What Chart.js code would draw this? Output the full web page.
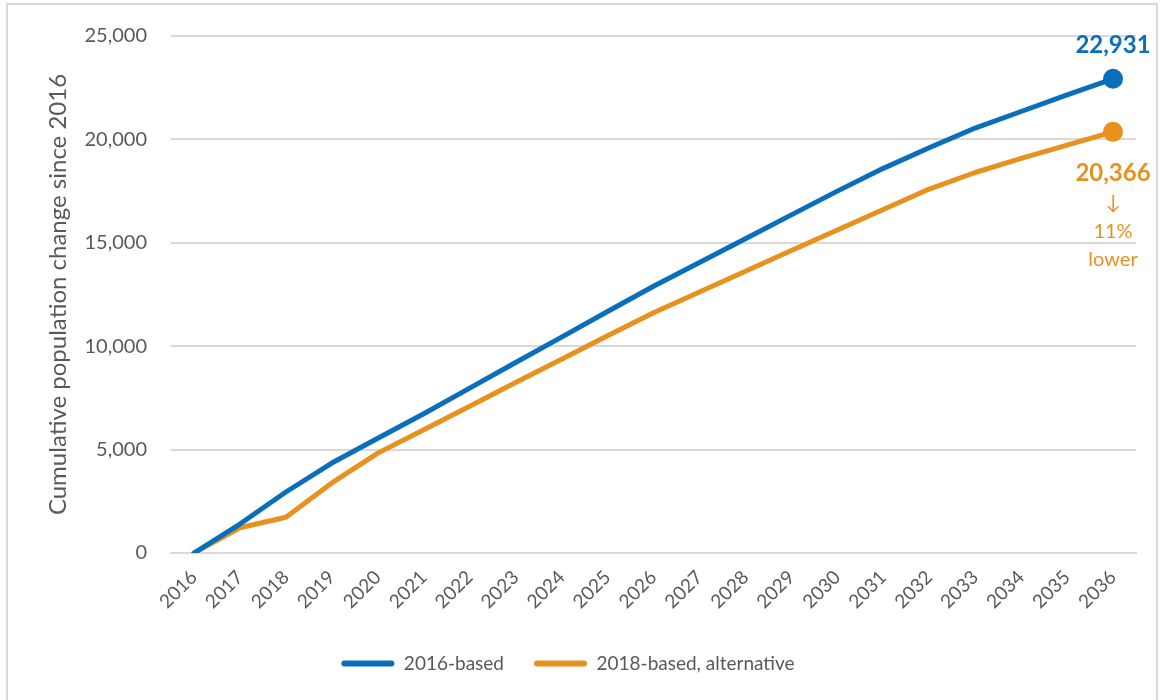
<!DOCTYPE html>
<html>
<head>
<meta charset="utf-8">
<script src="https://cdn.jsdelivr.net/npm/chart.js@4/dist/chart.umd.min.js"></script>
<style>
  html, body { margin: 0; padding: 0; background: #ffffff; }
  #wrap { position: relative; width: 1163px; height: 700px; overflow: hidden; }
  #frame { position: absolute; left: 6px; top: 3px; width: 1152px; height: 710px;
           border: 2px solid #d9d9d9; box-sizing: border-box; pointer-events: none; }
  canvas { position: absolute; left: 0; top: 0; }
</style>
</head>
<body>
<div id="wrap">
  <canvas id="chart" width="1163" height="700"></canvas>
  <div id="frame"></div>
</div>
<script>
// Projection years
const years = ['2016','2017','2018','2019','2020','2021','2022','2023','2024','2025','2026',
               '2027','2028','2029','2030','2031','2032','2033','2034','2035','2036'];

// Cumulative population change since 2016
const based2016 = [0, 1400, 2950, 4350, 5550, 6730, 7970, 9210, 10440, 11680, 12900,
                   14050, 15200, 16350, 17500, 18600, 19600, 20550, 21350, 22150, 22931];
const based2018Alt = [0, 1220, 1730, 3390, 4830, 5960, 7100, 8240, 9370, 10510, 11620,
                      12620, 13620, 14630, 15620, 16610, 17600, 18400, 19080, 19720, 20366];

const seriesNames = ['2016-based', '2018-based, alternative'];
const yTicks = [0, 5000, 10000, 15000, 20000, 25000];

const BLUE = '#0A6EBD';
const ORANGE = '#E8911F';
const GREY_TEXT = '#595959';
const GRID = '#d9d9d9';
const FONT = 'Lato, "Open Sans", sans-serif';

const fmt = v => v.toLocaleString('en-US');
const lastIdx = years.length - 1;

// Labels at the end of each line: final values and the relative difference
const endLabels = {
  id: 'endLabels',
  afterDatasetsDraw(chart) {
    const ctx = chart.ctx;
    const pBlue = chart.getDatasetMeta(0).data[lastIdx];
    const pOrange = chart.getDatasetMeta(1).data[lastIdx];
    const vBlue = based2016[lastIdx];
    const vOrange = based2018Alt[lastIdx];
    const pct = Math.round((1 - vOrange / vBlue) * 100);
    ctx.save();
    ctx.textAlign = 'center';
    ctx.textBaseline = 'middle';
    ctx.fillStyle = BLUE;
    ctx.font = 'bold 24px ' + FONT;
    ctx.fillText(fmt(vBlue), pBlue.x, pBlue.y - 34);
    ctx.fillStyle = ORANGE;
    ctx.fillText(fmt(vOrange), pOrange.x, pOrange.y + 41);
    ctx.font = '20px ' + FONT;
    ctx.fillText('\u2193', pOrange.x, pOrange.y + 71);
    ctx.fillText(pct + '%', pOrange.x, pOrange.y + 100);
    ctx.fillText('lower', pOrange.x, pOrange.y + 128);
    ctx.restore();
  }
};

const endPoint = ctx => (ctx.dataIndex === lastIdx ? 10 : 0);

new Chart(document.getElementById('chart'), {
  type: 'line',
  data: {
    labels: years,
    datasets: [
      {
        label: seriesNames[0],
        data: based2016,
        borderColor: BLUE,
        backgroundColor: BLUE,
        borderWidth: 5,
        borderCapStyle: 'round',
        borderJoinStyle: 'round',
        pointRadius: endPoint,
        pointHoverRadius: endPoint,
        pointBorderWidth: 0,
        pointBackgroundColor: BLUE,
        tension: 0
      },
      {
        label: seriesNames[1],
        data: based2018Alt,
        borderColor: ORANGE,
        backgroundColor: ORANGE,
        borderWidth: 5,
        borderCapStyle: 'round',
        borderJoinStyle: 'round',
        pointRadius: endPoint,
        pointHoverRadius: endPoint,
        pointBorderWidth: 0,
        pointBackgroundColor: ORANGE,
        tension: 0
      }
    ]
  },
  options: {
    responsive: false,
    animation: false,
    events: [],
    layout: { padding: { top: 33, right: 27, bottom: 17, left: 0 } },
    scales: {
      x: {
        type: 'category',
        offset: true,
        grid: { display: false, drawTicks: false },
        border: { display: true, color: GRID, width: 2 },
        ticks: {
          color: GREY_TEXT,
          font: { family: FONT, size: 19 },
          minRotation: 45,
          maxRotation: 45,
          autoSkip: false,
          padding: 13
        },
        afterFit(scale) { scale.height = 71; }
      },
      y: {
        min: 0,
        max: 25000,
        afterBuildTicks(scale) { scale.ticks = yTicks.map(v => ({ value: v })); },
        grid: { color: GRID, lineWidth: 2, drawTicks: false },
        border: { display: false },
        ticks: {
          color: GREY_TEXT,
          font: { family: FONT, size: 20 },
          padding: 24,
          callback: v => fmt(v)
        },
        title: {
          display: true,
          text: 'Cumulative population change since 2016',
          color: GREY_TEXT,
          font: { family: FONT, size: 24 },
          padding: { top: 44, bottom: 0 }
        },
        afterFit(scale) { scale.width = 171; }
      }
    },
    plugins: {
      legend: {
        position: 'bottom',
        labels: {
          color: GREY_TEXT,
          font: { family: FONT, size: 19 },
          boxWidth: 53,
          boxHeight: 6,
          useBorderRadius: true,
          borderRadius: 3,
          padding: 30,
          generateLabels(chart) {
            return Chart.defaults.plugins.legend.labels.generateLabels(chart).map(l => {
              const c = chart.data.datasets[l.datasetIndex].borderColor;
              return Object.assign(l, { fillStyle: c, strokeStyle: c, lineWidth: 0 });
            });
          }
        }
      },
      tooltip: { enabled: false },
      endLabels: {}
    }
  },
  plugins: [endLabels]
});
</script>
</body>
</html>
